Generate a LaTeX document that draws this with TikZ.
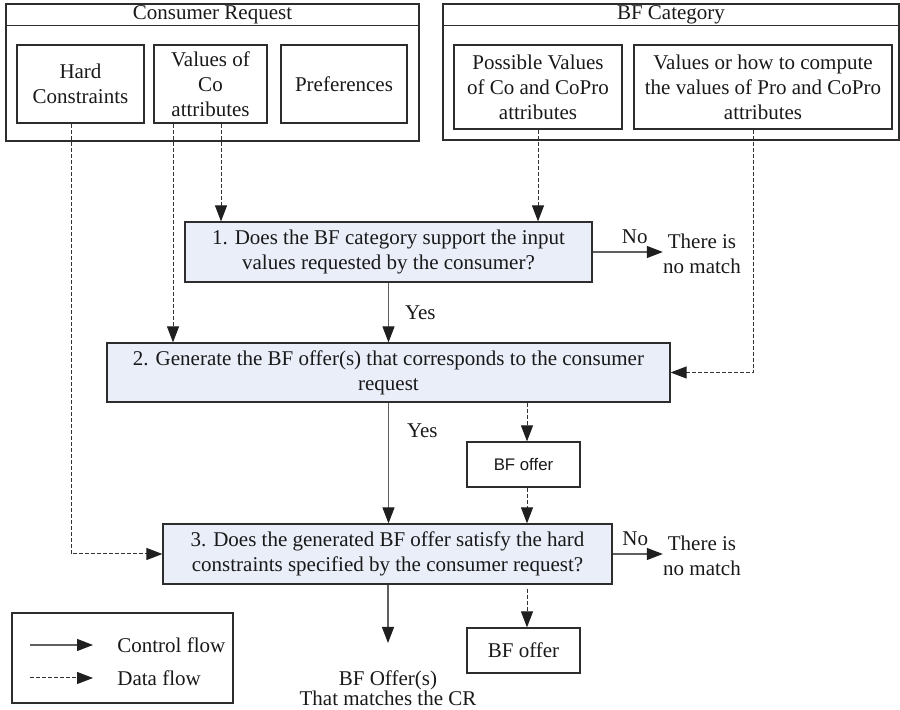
\documentclass[tikz,border=0pt]{standalone}
\usepackage{fontspec}
\setmainfont{Liberation Serif}
\newfontfamily\offerfont{Liberation Sans}
\usetikzlibrary{arrows.meta,calc}
\definecolor{qfill}{RGB}{233,238,249}
\definecolor{edge}{RGB}{45,45,45}
\definecolor{ctrlline}{RGB}{95,95,95}
\begin{document}
\begin{tikzpicture}[x=0.5pt,y=-0.5pt,
  every node/.style={font=\fontsize{10.5}{12.5}\selectfont, inner sep=0pt, text=black!90},
  frame/.style={draw=edge, line width=0.6pt},
  sz/.style 2 args={minimum width={#1*0.5pt}, minimum height={#2*0.5pt}},
  item/.style={frame, align=center},
  qbox/.style={frame, fill=qfill, align=center},
  tip/.style={-{Triangle[length=8pt,width=6pt,color=black!88]}},
  ctrl/.style={draw=ctrlline, line width=0.6pt, tip},
  data/.style={draw=black!80, line width=0.5pt, dash pattern=on 2pt off 1pt, tip},
  lbl/.style={font=\fontsize{10.5}{12.5}\selectfont}]
\useasboundingbox (0,0) rectangle (900,710);

% consumer request group
\node[frame, sz={413}{137}] (cr) at (212.5,72.5) {};
\draw[frame] ($(cr.north west)+(0,22)$) -- ($(cr.north east)+(0,22)$);
\node (crt) at (212.5,15) {Consumer Request};
\node[item, sz={127}{78}] (hard) at (80.5,84) {Hard\\Constraints};
\node[item, sz={113}{78}] (coval) at (210.5,84) {Values of\\Co\\attributes};
\node[item, sz={126}{78}] (pref) at (344,84) {Preferences};

% BF category group
\node[frame, sz={456}{136}] (bf) at (671,72) {};
\draw[frame] ($(bf.north west)+(0,22)$) -- ($(bf.north east)+(0,22)$);
\node (bft) at (671,15) {BF Category};
\node[item, sz={168}{84}] (possv) at (538,87) {Possible Values\\of Co and CoPro\\attributes};
\node[item, sz={258}{84}] (howv) at (763,87) {Values or how to compute\\the values of Pro and CoPro\\attributes};

% process steps
\node[qbox, sz={407}{60}] (q1) at (388.5,252) {1. Does the BF category support the input\\values requested by the consumer?};
\node[qbox, sz={563}{59}] (q2) at (388.5,372.5) {2. Generate the BF offer(s) that corresponds to the consumer\\request};
\node[qbox, sz={449}{60}] (q3) at (387.5,554) {3. Does the generated BF offer satisfy the hard\\constraints specified by the consumer request?};

% offers and outcomes
\node[item, sz={113}{45}, font=\offerfont\fontsize{8.4}{10}\selectfont] (offer1) at (523.5,464.5) {BF offer};
\node[item, sz={113}{45}] (offer2) at (523.5,650.5) {BF offer};
\node[align=center] (nm1) at (702,254) {There is\\no match};
\node[align=center] (nm2) at (702,556) {There is\\no match};
\node[align=center, font=\fontsize{10.5}{10}\selectfont] (res) at (388,688) {BF Offer(s)\\That matches the CR};
\coordinate (resend) at (388,643);

% data flow
\draw[data] ($(hard.south)+(-9.5,0)$) |- (q3.west);
\draw[data] ($(coval.south)+(-37.5,0)$) coordinate (cv1) -- (cv1 |- q2.north);
\draw[data] ($(coval.south)+(10.5,0)$) coordinate (cv2) -- (cv2 |- q1.north);
\draw[data] (possv.south) -- (possv.south |- q1.north);
\draw[data] ($(howv.south)+(-10,0)$) |- (q2.east);
\draw[data] ($(q2.south)+(138.5,0)$) coordinate (dd) -- (dd |- offer1.north);
\draw[data] (offer1.south -| dd) -- (dd |- q3.north);
\draw[data] ($(q3.south -| dd)+(0,4)$) -- (dd |- offer2.north);

% control flow
\draw[ctrl] (q1.south) -- node[lbl, right=8pt, pos=0.5] {Yes} (q2.north);
\draw[ctrl] (q2.south) -- node[lbl, right=9pt, pos=0.23] {Yes} (q3.north -| q2.south);
\draw[ctrl] (q1.east) -- node[lbl, above=4pt, pos=0.6] {No} (q1.east -| nm1.west);
\draw[ctrl] (q3.east) -- node[lbl, above=4pt, pos=0.45] {No} (q3.east -| nm2.west);
\draw[ctrl] (q3.south -| resend) -- (resend);

% legend
\node[frame, sz={221}{90}] (leg) at (122.5,658) {};
\coordinate (lc1) at (30,645);
\coordinate (lc2) at (93,645);
\coordinate (ld1) at (30,678);
\coordinate (ld2) at (93,678);
\draw[ctrl] (lc1) -- (lc2);
\draw[data] (ld1) -- (ld2);
\node[anchor=west] (lct) at (117,645) {Control flow};
\node[anchor=west] (ldt) at (117,678) {Data flow};
\end{tikzpicture}
\end{document}
